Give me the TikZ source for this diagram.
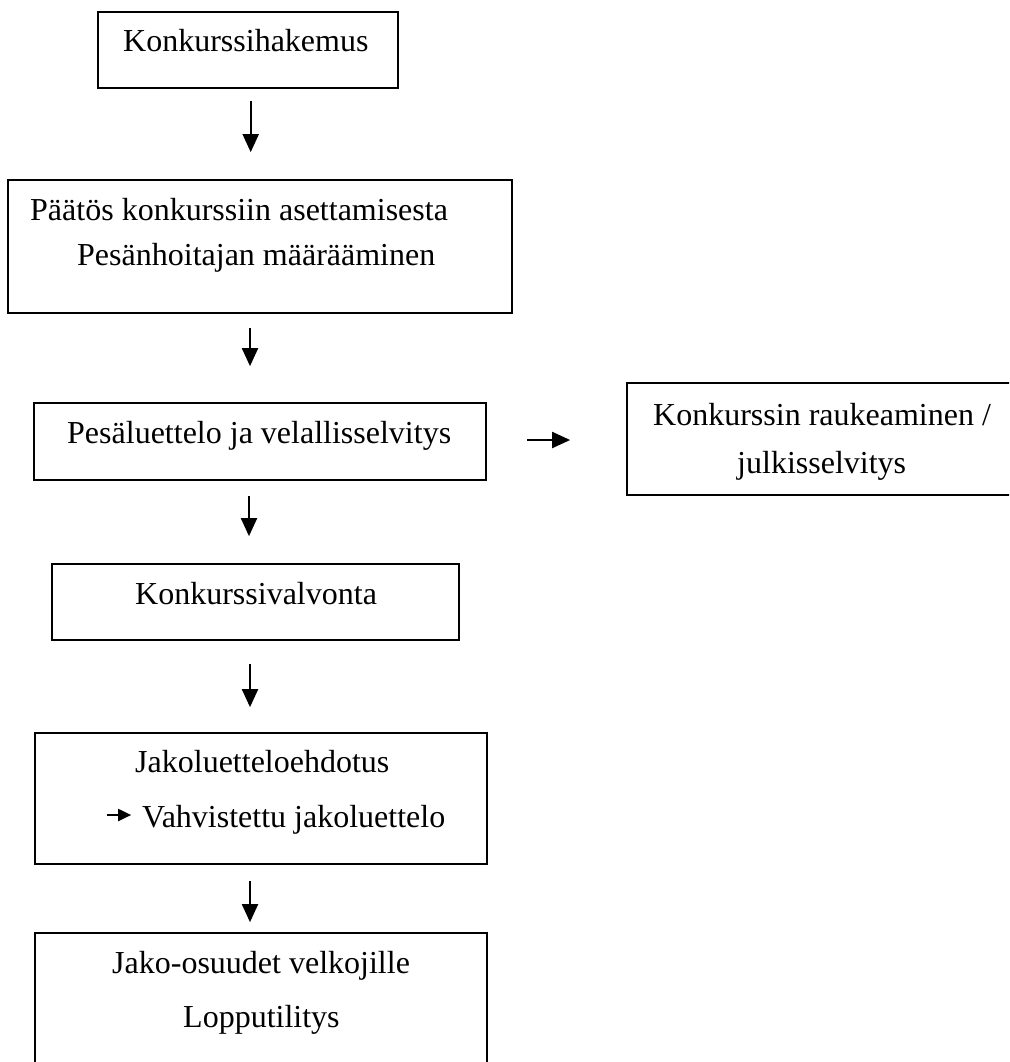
\documentclass[tikz,border=0pt]{standalone}
\usepackage{fontspec}
\setmainfont{Liberation Serif}
\usetikzlibrary{arrows.meta,calc}
\begin{document}
\begin{tikzpicture}[x=1pt,y=-1pt,
 box/.style={draw, line width=1.7pt, inner sep=0pt, rectangle},
 lbl/.style={anchor=base west, inner sep=0pt, font=\fontsize{32}{38}\selectfont},
 arr/.style={line width=2pt, -{Triangle[width=16pt,length=18pt]}},
 sarr/.style={line width=2pt, -{Triangle[width=12pt,length=13pt]}}]
\useasboundingbox (0,0) rectangle (1009,1062);
\clip (0,0) rectangle (1009,1062);
% boxes
\node[box, minimum width=300pt, minimum height=76pt] (b1) at (248,50) {};
\node[box, minimum width=504pt, minimum height=133pt] (b2) at (260,246.5) {};
\node[box, minimum width=452pt, minimum height=77pt] (b3) at (260,441.5) {};
\node[box, minimum width=388pt, minimum height=112pt] (b4) at (821,439) {};
\node[box, minimum width=407pt, minimum height=76pt] (b5) at (255.5,602) {};
\node[box, minimum width=452pt, minimum height=131pt] (b6) at (261,798.5) {};
\node[box, minimum width=452pt, minimum height=142pt] (b7) at (261,1004) {};
% texts
\node[lbl] (t1) at (123,52) {Konkurssihakemus};
\node[lbl] (t2a) at (30,220) {Päätös konkurssiin asettamisesta};
\node[lbl] (t2b) at (77,265) {Pesänhoitajan määrääminen};
\node[lbl] (t3) at (67,443) {Pesäluettelo ja velallisselvitys};
\node[lbl] (t4a) at (653,425) {Konkurssin raukeaminen /};
\node[lbl] (t4b) at (737,473) {julkisselvitys};
\node[lbl] (t5) at (135,604) {Konkurssivalvonta};
\node[lbl] (t6a) at (135,772) {Jakoluetteloehdotus};
\node[lbl] (t6b) at (142,827) {Vahvistettu jakoluettelo};
\node[lbl] (t7a) at (112,973) {Jako-osuudet velkojille};
\node[lbl] (t7b) at (183,1027) {Lopputilitys};
% connectors
\draw[arr] ($(b1.south)+(2.7,12)$) -- ($(b2.north)+(-9.3,-27)$);
\draw[arr] ($(b2.south)+(-10,14)$) -- ($(b3.north)+(-10,-36)$);
\draw[arr] ($(b3.east)+(40,-1.5)$) -- ($(b4.west)+(-56,1)$);
\draw[arr] ($(b3.south)+(-11,15)$) -- ($(b5.north)+(-6.5,-27)$);
\draw[arr] ($(b5.south)+(-5.5,23)$) -- ($(b6.north)+(-11,-25)$);
\draw[arr] ($(b6.south)+(-11,16)$) -- ($(b7.north)+(-11,-10)$);
\draw[sarr] ($(b6.west)+(73,16.5)$) -- ($(b6.west)+(97,16.5)$);
\end{tikzpicture}
\end{document}
